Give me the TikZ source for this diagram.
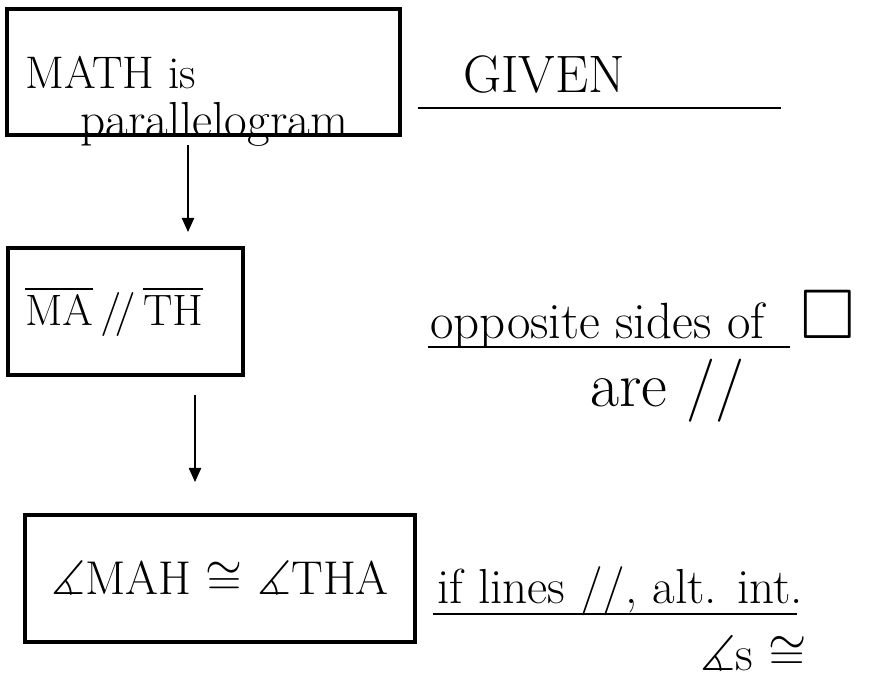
\RequirePackage{fix-cm}
\documentclass[tikz,border=0pt]{standalone}
\usepackage{amssymb}
\usetikzlibrary{arrows.meta,fit}
\begin{document}
\begin{tikzpicture}[x=0.02cm, y=-0.02cm, font=\fontsize{24}{28}\selectfont, >={Triangle[length=8pt,width=7pt]},
	stepbox/.style={draw, line width=2pt, inner sep=0pt},
	txt/.style={inner sep=0pt, anchor=base west},
	reasonline/.style={line width=1.5pt},
	flow/.style={->, line width=0.8pt}]
	% --- Khung hình ---
	\useasboundingbox (0,0) rectangle (872,681);
	% --- Các ô của chứng minh ---
	\node[stepbox, fit={(7,9) (400,135)}] (given) {};
	\node[stepbox, minimum width=4.7cm, minimum height=2.54cm, text width=4.02cm, align=left,
		font=\fontsize{25}{30}\selectfont] (para) at (125.5,311.5)
		{$\overline{\mathrm{MA}}\,/\!/\,\overline{\mathrm{TH}}$};
	\node[stepbox, minimum width=7.8cm, minimum height=2.54cm, font=\fontsize{27}{30}\selectfont] (angles) at (220,578.5)
		{$\measuredangle$MAH $\cong$ $\measuredangle$THA};
	% --- Nội dung ô đầu ---
	\node[txt, font=\fontsize{26}{30}\selectfont] (s1a) at (25,88) {MATH is};
	\node[txt, font=\fontsize{28}{32}\selectfont] (s1b) at (80,136) {parallelogram};
	% --- Mũi tên ---
	\coordinate (a1s) at (188,145); \coordinate (a1e) at (188,232);
	\coordinate (a2s) at (195,395); \coordinate (a2e) at (195,482);
	\draw[flow] (a1s) -- (a1e);
	\draw[flow] (a2s) -- (a2e);
	% --- Lý do ---
	\node[txt, font=\fontsize{30}{34}\selectfont] (r1) at (463,92) {GIVEN};
	\draw[reasonline] (418,108) -- (781,108);
	\node[txt, font=\fontsize{29}{32}\selectfont] (r2a) at (430,338)
		{opposite sides of\hspace{0.7em}{\fontsize{40}{44}\selectfont$\square$}};
	\draw[reasonline] (428,347) -- (790,347);
	\node[txt, font=\fontsize{36}{40}\selectfont] (r2b) at (590,406) {are //};
	\node[txt, font=\fontsize{28}{32}\selectfont] (r3a) at (437,603) {if lines //, alt. int.};
	\draw[reasonline] (433,614) -- (797,614);
	\node[txt, font=\fontsize{28}{32}\selectfont] (r3b) at (700,670) {$\measuredangle$s $\cong$};
\end{tikzpicture}
\end{document}
